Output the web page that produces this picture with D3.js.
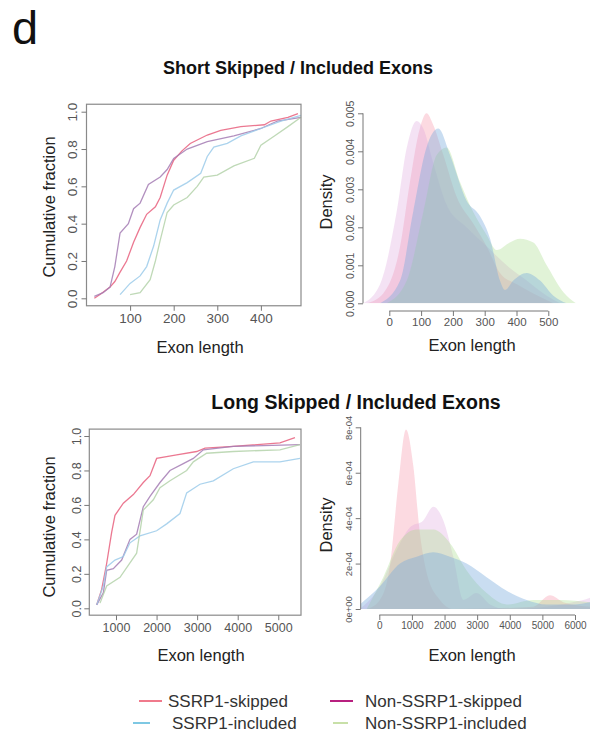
<!DOCTYPE html>
<html>
<head>
<meta charset="utf-8">
<script src="https://cdn.jsdelivr.net/npm/d3@7"></script>
<style>
  body { margin: 0; background: #fff; }
  svg text { font-family: "Liberation Sans", Arial, sans-serif; }
</style>
</head>
<body>
<div id="chart-area"></div>
<script>
// series
var seriesNames = ["SSRP1-skipped", "Non-SSRP1-skipped", "SSRP1-included", "Non-SSRP1-included"];

// short exons, cumulative fraction  [length, fraction]
var shortEcdfSkipped = [[18,0],[31,0.02],[54,0.06],[65,0.09],[77,0.14],[92,0.2],[108,0.3],[123,0.38],[138,0.45],[158,0.49],[169,0.54],[185,0.66],[200,0.74],[219,0.79],[238,0.83],[277,0.875],[308,0.9],[354,0.92],[408,0.93],[423,0.95],[462,0.97],[485,0.99]];
var shortEcdfNonSkipped = [[18,0.01],[38,0.03],[54,0.06],[65,0.17],[77,0.35],[96,0.4],[108,0.48],[123,0.51],[142,0.61],[169,0.65],[185,0.69],[200,0.75],[231,0.8],[277,0.84],[338,0.87],[400,0.91],[438,0.95],[492,0.97]];
var shortEcdfIncluded = [[77,0.02],[100,0.08],[123,0.12],[138,0.17],[154,0.28],[169,0.42],[185,0.51],[200,0.58],[231,0.62],[262,0.67],[277,0.76],[292,0.81],[323,0.83],[354,0.87],[400,0.91],[446,0.95],[492,0.98]];
var shortEcdfNonIncluded = [[100,0.02],[123,0.03],[146,0.1],[158,0.2],[169,0.31],[185,0.46],[200,0.5],[231,0.54],[254,0.6],[269,0.65],[300,0.66],[338,0.71],[385,0.75],[400,0.82],[431,0.87],[462,0.92],[492,0.97]];

// short exons, density  [length, density]
var shortDensSkipped = [[-71,0],[-19,0.00026],[34,0.0015],[65,0.0032],[96,0.0046],[117,0.005],[138,0.0047],[170,0.0039],[212,0.0028],[264,0.0021],[306,0.0015],[348,0.0008],[401,0.0005],[453,0.00026],[516,0]];
var shortDensNonSkipped = [[-82,0],[-29,0.0005],[23,0.0024],[55,0.0041],[86,0.0048],[107,0.0046],[138,0.0037],[180,0.0026],[243,0.002],[306,0.0015],[369,0.001],[432,0.0006],[495,0.0002],[537,0]];
var shortDensIncluded = [[-29,0],[34,0.0006],[75,0.0024],[117,0.0041],[154,0.0046],[191,0.0039],[243,0.0027],[285,0.0023],[317,0.0017],[348,0.0006],[364,0.00035],[390,0.0006],[432,0.0008],[474,0.0006],[516,0.0002],[558,0]];
var shortDensNonIncluded = [[-8,0],[55,0.0006],[107,0.0024],[149,0.0039],[180,0.0041],[222,0.0032],[264,0.0024],[306,0.0018],[338,0.0014],[379,0.0016],[411,0.0017],[453,0.0016],[495,0.001],[547,0.0003],[587,0]];

// long exons, cumulative fraction
var longEcdfSkipped = [[524,0.02],[647,0.11],[770,0.26],[893,0.44],[975,0.54],[1181,0.61],[1427,0.66],[1673,0.73],[1838,0.77],[2002,0.87],[2495,0.89],[2988,0.91],[3193,0.93],[3891,0.94],[5041,0.96],[5411,0.99]];
var longEcdfNonSkipped = [[524,0.02],[688,0.09],[770,0.22],[934,0.23],[1140,0.28],[1345,0.4],[1509,0.43],[1673,0.59],[1838,0.65],[2084,0.73],[2331,0.8],[2659,0.84],[2906,0.87],[3152,0.92],[3891,0.94],[5534,0.95]];
var longEcdfIncluded = [[524,0.02],[688,0.13],[770,0.24],[975,0.28],[1181,0.3],[1345,0.38],[1591,0.42],[2002,0.45],[2249,0.49],[2577,0.55],[2742,0.67],[3070,0.72],[3399,0.74],[3891,0.81],[4384,0.85],[5041,0.85],[5534,0.87]];
var longEcdfNonIncluded = [[606,0.03],[770,0.13],[1099,0.18],[1509,0.32],[1673,0.57],[1920,0.63],[2084,0.7],[2331,0.74],[2742,0.8],[2906,0.85],[3234,0.9],[3891,0.91],[5041,0.92],[5534,0.95]];

// long exons, density
var longDensSkipped = [[-388,0],[20,0.00004],[327,0.00019],[583,0.00055],[818,0.00079],[1043,0.00063],[1247,0.00033],[1451,0.00016],[1860,0.00004],[2269,0],[4722,0.00001],[5233,0.00006],[5642,0.00003],[6460,0.00001]];
var longDensNonSkipped = [[-593,0],[20,0.0001],[532,0.00026],[941,0.00036],[1349,0.00039],[1656,0.00045],[1963,0.00039],[2269,0.00023],[2576,0.00004],[2985,0.00007],[3394,0.00002],[3905,0],[6256,0.00004],[6460,0.00005]];
var longDensIncluded = [[-593,0.00002],[20,0.0001],[634,0.0002],[1145,0.00023],[1656,0.00025],[2167,0.00023],[2678,0.0002],[3291,0.00014],[3905,0.00008],[4518,0.00004],[5131,0.00002],[5949,0.00002],[6460,0.00003]];
var longDensNonIncluded = [[-388,0],[123,0.00014],[634,0.0003],[1145,0.00035],[1656,0.00035],[2167,0.00029],[2678,0.00017],[3291,0.00007],[3905,0.00002],[4722,0.00004],[5540,0.00004],[6460,0.00003]];

// ticks
var fractionTicks = [0, 0.2, 0.4, 0.6, 0.8, 1.0];
var shortEcdfXTicks = [100, 200, 300, 400];
var longEcdfXTicks = [1000, 2000, 3000, 4000, 5000];
var shortDensXTicks = [0, 100, 200, 300, 400, 500];
var shortDensYTicks = [0, 0.001, 0.002, 0.003, 0.004, 0.005];
var longDensXTicks = [0, 1000, 2000, 3000, 4000, 5000, 6000];
var longDensYTicks = [0, 0.0002, 0.0004, 0.0006, 0.0008];
var longDensYLabels = ["0e+00", "2e-04", "4e-04", "6e-04", "8e-04"];

var lineColors = ["#e8607e", "#a47cb4", "#9ccbea", "#b4d2aa"];
var fillColors = ["rgba(245,150,170,0.35)", "rgba(220,160,220,0.3)", "rgba(120,170,220,0.4)", "rgba(170,220,140,0.35)"];
var legendColors = ["#f07a8c", "#b8207f", "#7ec8e3", "#c8e0a8"];

var svg = d3.select("#chart-area")
    .append("svg")
    .attr("width", 598)
    .attr("height", 735);

svg.append("text").attr("x", 12).attr("y", 44)
    .attr("font-size", 47).attr("fill", "#111").text("d");

svg.append("text").attr("x", 298).attr("y", 74)
    .attr("text-anchor", "middle").attr("font-size", 18).attr("font-weight", "bold")
    .attr("fill", "#111").text("Short Skipped / Included Exons");
svg.append("text").attr("x", 356).attr("y", 409)
    .attr("text-anchor", "middle").attr("font-size", 19.5).attr("font-weight", "bold")
    .attr("fill", "#111").text("Long Skipped / Included Exons");

function styleAxis(g, fs) {
    g.select(".domain").remove();
    g.selectAll(".tick line").attr("stroke", "#777");
    g.selectAll(".tick text").attr("fill", "#555").attr("font-size", fs)
        .attr("font-family", "Liberation Sans, Arial, sans-serif");
}

function rotateY(g, off) {
    g.selectAll(".tick text")
        .attr("transform", "rotate(-90)")
        .attr("x", 0).attr("y", -off).attr("dy", "0.35em")
        .attr("text-anchor", "middle");
}

function axisLabels(xl, yl, xText, yText) {
    svg.append("text").attr("x", xl[0]).attr("y", xl[1]).attr("dy", "0.35em")
        .attr("text-anchor", "middle").attr("font-size", 16.5).attr("fill", "#222").text(xText);
    svg.append("text").attr("transform", "translate(" + yl[0] + "," + yl[1] + ") rotate(-90)")
        .attr("dy", "0.35em")
        .attr("text-anchor", "middle").attr("font-size", 16.5).attr("fill", "#222").text(yText);
}

function ecdfPanel(opt) {
    var x = d3.scaleLinear().domain(opt.xDomain).range(opt.xRange);
    var y = d3.scaleLinear().domain([0, 1]).range(opt.yRange);
    var x0 = opt.xRange[0], x1 = opt.xRange[1];
    var yTop = y(1.04), yBot = y(-0.04);

    var line = d3.line().x(d => x(d[0])).y(d => y(d[1]));
    opt.series.forEach((s, i) => {
        svg.append("path").datum(s)
            .attr("d", line)
            .attr("fill", "none")
            .attr("stroke", lineColors[i])
            .attr("stroke-width", 1.3)
            .attr("stroke-opacity", 0.85);
    });

    svg.append("rect").attr("x", x0).attr("y", yTop)
        .attr("width", x1 - x0).attr("height", yBot - yTop)
        .attr("fill", "none").attr("stroke", "#8a8a8a").attr("stroke-width", 1.2);

    var gx = svg.append("g").attr("transform", "translate(0," + yBot + ")")
        .call(d3.axisBottom(x).tickValues(opt.xTicks).tickSize(5).tickPadding(3).tickFormat(d3.format("d")));
    styleAxis(gx, opt.fs);
    var gy = svg.append("g").attr("transform", "translate(" + x0 + ",0)")
        .call(d3.axisLeft(y).tickValues(fractionTicks).tickSize(5).tickFormat(d3.format(".1f")));
    styleAxis(gy, opt.fs);
    rotateY(gy, opt.yLabOff);

    axisLabels(opt.xLab, opt.yLab, "Exon length", "Cumulative fraction");
}

function densityPanel(opt) {
    var x = d3.scaleLinear().domain(opt.xDomain).range(opt.xRange);
    var y = d3.scaleLinear().domain(opt.yDomain).range(opt.yRange);
    var id = "clip" + opt.id;
    svg.append("clipPath").attr("id", id).append("rect")
        .attr("x", opt.axisX).attr("y", opt.clipTop)
        .attr("width", opt.clipRight - opt.axisX).attr("height", y(0) - opt.clipTop);

    var area = d3.area().x(d => x(d[0])).y0(y(0)).y1(d => y(d[1]))
        .curve(d3.curveMonotoneX);
    var order = [0, 1, 3, 2];
    order.forEach(i => {
        svg.append("path").datum(opt.series[i])
            .attr("clip-path", "url(#" + id + ")")
            .attr("d", area)
            .attr("fill", fillColors[i]);
    });

    var gx = svg.append("g").attr("transform", "translate(0," + opt.axisY + ")")
        .call(d3.axisBottom(x).tickValues(opt.xTicks).tickSize(5).tickPadding(2).tickFormat(d3.format("d")));
    styleAxis(gx, opt.fsX);
    gx.append("line").attr("x1", x(opt.xTicks[0])).attr("x2", x(opt.xTicks[opt.xTicks.length - 1]))
        .attr("stroke", "#777");

    var gy = svg.append("g").attr("transform", "translate(" + opt.axisX + ",0)")
        .call(d3.axisLeft(y).tickValues(opt.yTicks).tickSize(5).tickFormat((d, i) => opt.yLabels[i]));
    styleAxis(gy, opt.fsY);
    gy.append("line").attr("y1", y(opt.yTicks[0])).attr("y2", y(opt.yTicks[opt.yTicks.length - 1]))
        .attr("stroke", "#777");
    rotateY(gy, opt.yLabOff);

    axisLabels(opt.xLab, opt.yLab, "Exon length", "Density");
}

ecdfPanel({
    series: [shortEcdfSkipped, shortEcdfNonSkipped, shortEcdfIncluded, shortEcdfNonIncluded],
    xDomain: [0, 492], xRange: [86.5, 301],
    yRange: [298.3, 111.7],
    xTicks: shortEcdfXTicks, fs: 13.5, yLabOff: 14.5,
    xLab: [200, 347], yLab: [49, 207]
});

densityPanel({
    id: "a",
    series: [shortDensSkipped, shortDensNonSkipped, shortDensIncluded, shortDensNonIncluded],
    xDomain: [0, 500], xRange: [389.3, 548.3],
    yDomain: [0, 0.005], yRange: [303.3, 113.3],
    axisX: 363, axisY: 311, clipTop: 100, clipRight: 590,
    xTicks: shortDensXTicks, yTicks: shortDensYTicks,
    yLabels: shortDensYTicks.map(d3.format(".3f")),
    fsX: 11.5, fsY: 10.5, yLabOff: 13,
    xLab: [472, 345], yLab: [326, 202]
});

ecdfPanel({
    series: [longEcdfSkipped, longEcdfNonSkipped, longEcdfIncluded, longEcdfNonIncluded],
    xDomain: [342, 5560], xRange: [89.3, 301],
    yRange: [608.3, 436],
    xTicks: longEcdfXTicks, fs: 12.5, yLabOff: 13,
    xLab: [201, 655], yLab: [49, 527]
});

densityPanel({
    id: "b",
    series: [longDensSkipped, longDensNonSkipped, longDensIncluded, longDensNonIncluded],
    xDomain: [0, 6000], xRange: [379.3, 575],
    yDomain: [0, 0.0008], yRange: [609, 427.3],
    axisX: 360.7, axisY: 615, clipTop: 420, clipRight: 591,
    xTicks: longDensXTicks, yTicks: longDensYTicks,
    yLabels: longDensYLabels,
    fsX: 10, fsY: 9.5, yLabOff: 12,
    xLab: [472, 655], yLab: [326, 525]
});

// legend
var legendPos = [
    {lx: [139, 162], tx: 168, y: 701},
    {lx: [330, 353], tx: 365, y: 701},
    {lx: [133, 150], tx: 172, y: 723},
    {lx: [333, 348], tx: 365, y: 723}
];
var legend = svg.append("g");
seriesNames.forEach((name, i) => {
    var p = legendPos[i];
    legend.append("line").attr("x1", p.lx[0]).attr("x2", p.lx[1])
        .attr("y1", p.y).attr("y2", p.y)
        .attr("stroke", legendColors[i]).attr("stroke-width", 2);
    legend.append("text").attr("x", p.tx).attr("y", p.y).attr("dy", "0.35em")
        .attr("font-size", 17).attr("fill", "#333").text(name);
});
</script>
</body>
</html>
